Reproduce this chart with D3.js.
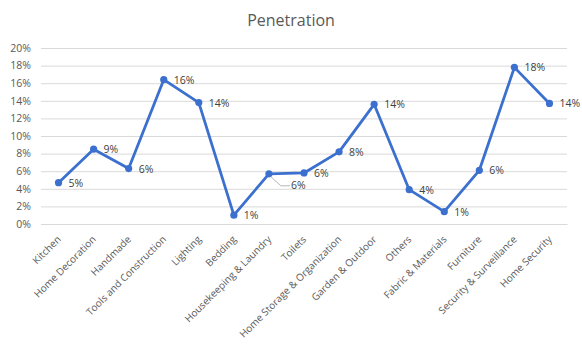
<!DOCTYPE html>
<html>
<head>
<meta charset="utf-8">
<script src="https://cdn.jsdelivr.net/npm/d3@7"></script>
<style>
  body { margin: 0; background: #fff; }
  svg text { font-family: "Open Sans", "Noto Sans", sans-serif; }
</style>
</head>
<body>
<svg id="chart" width="582" height="354"></svg>
<script>
const categories = [
  'Kitchen', 'Home Decoration', 'Handmade', 'Tools and Construction', 'Lighting',
  'Bedding', 'Housekeeping & Laundry', 'Toilets', 'Home Storage & Organization',
  'Garden & Outdoor', 'Others', 'Fabric & Materials', 'Furniture',
  'Security & Surveillance', 'Home Security'
];
const penetration = [
  0.047, 0.085, 0.063, 0.164, 0.138, 0.010, 0.057, 0.058, 0.082, 0.136,
  0.039, 0.014, 0.061, 0.178, 0.137
];
const yTicks = [0, 0.02, 0.04, 0.06, 0.08, 0.10, 0.12, 0.14, 0.16, 0.18, 0.20];

const width = 582,
  height = 354,
  margin = { top: 48, right: 15, bottom: 130, left: 41 },
  chartWidth = width - margin.left - margin.right,
  chartHeight = height - margin.top - margin.bottom;

const textColor = '#595959',
  lineColor = '#3b70cf';

const svg = d3.select('#chart');

svg
  .append('text')
  .attr('x', width / 2)
  .attr('y', 26)
  .attr('text-anchor', 'middle')
  .style('font-size', '16px')
  .style('fill', textColor)
  .text('Penetration');

const g = svg
  .append('g')
  .attr('transform', 'translate(' + margin.left + ',' + margin.top + ')');

const x = d3
  .scaleBand()
  .domain(categories)
  .range([0, chartWidth]);

const y = d3
  .scaleLinear()
  .domain([0, 0.2])
  .range([chartHeight, 0]);

// gridlines
g.append('g')
  .attr('class', 'y grid')
  .call(
    d3.axisLeft(y)
      .tickValues(yTicks)
      .tickSize(-chartWidth)
      .tickFormat('')
  )
  .call(sel => sel.select('.domain').remove())
  .call(sel => sel.selectAll('line').attr('stroke', '#d9d9d9').attr('stroke-width', 1));

// y labels
g.append('g')
  .attr('class', 'y axis')
  .call(
    d3.axisLeft(y)
      .tickValues(yTicks)
      .tickSize(0)
      .tickPadding(10)
      .tickFormat(d3.format('.0%'))
  )
  .call(sel => sel.select('.domain').remove())
  .call(sel =>
    sel.selectAll('text')
      .style('font-size', '10.5px')
      .style('fill', textColor)
      .style('font-family', '"Open Sans", sans-serif')
  );

// x axis
const xAxisLayer = g
  .append('g')
  .attr('class', 'x axis')
  .attr('transform', 'translate(0,' + chartHeight + ')')
  .call(d3.axisBottom(x).tickSize(0).tickPadding(0));

xAxisLayer.select('.domain').attr('stroke', '#d9d9d9');

xAxisLayer
  .selectAll('text')
  .style('text-anchor', 'end')
  .style('font-size', '10px')
  .style('fill', textColor)
  .style('font-family', '"Open Sans", sans-serif')
  .attr('dy', 0)
  .attr('transform', 'translate(3,16) rotate(-45)');

const cx = (d, i) => x(categories[i]) + x.bandwidth() / 2;

// line
const line = d3
  .line()
  .x(cx)
  .y(d => y(d));

g.append('path')
  .datum(penetration)
  .attr('d', line)
  .attr('fill', 'none')
  .attr('stroke', lineColor)
  .attr('stroke-width', 2.8)
  .attr('stroke-linejoin', 'round');

g.selectAll('.marker')
  .data(penetration)
  .enter()
  .append('circle')
  .attr('class', 'marker')
  .attr('cx', cx)
  .attr('cy', d => y(d))
  .attr('r', 3.6)
  .attr('fill', lineColor);

// data labels
const labelFmt = d3.format('.0%');
const leaderIdx = 6;

g.selectAll('.dlabel')
  .data(penetration)
  .enter()
  .append('text')
  .attr('class', 'dlabel')
  .attr('x', (d, i) => cx(d, i) + (i === leaderIdx ? 22 : 10))
  .attr('y', (d, i) => y(d) + (i === leaderIdx ? 15 : 4))
  .style('font-size', '10.5px')
  .style('fill', '#404040')
  .text(d => labelFmt(d));

// leader line for the one displaced label
const lx = cx(penetration[leaderIdx], leaderIdx),
  ly = y(penetration[leaderIdx]);
g.append('polyline')
  .attr('points', [
    [lx + 2, ly + 3],
    [lx + 12, ly + 12],
    [lx + 21, ly + 12]
  ].join(' '))
  .attr('fill', 'none')
  .attr('stroke', '#a6a6a6')
  .attr('stroke-width', 0.8);
</script>
</body>
</html>
